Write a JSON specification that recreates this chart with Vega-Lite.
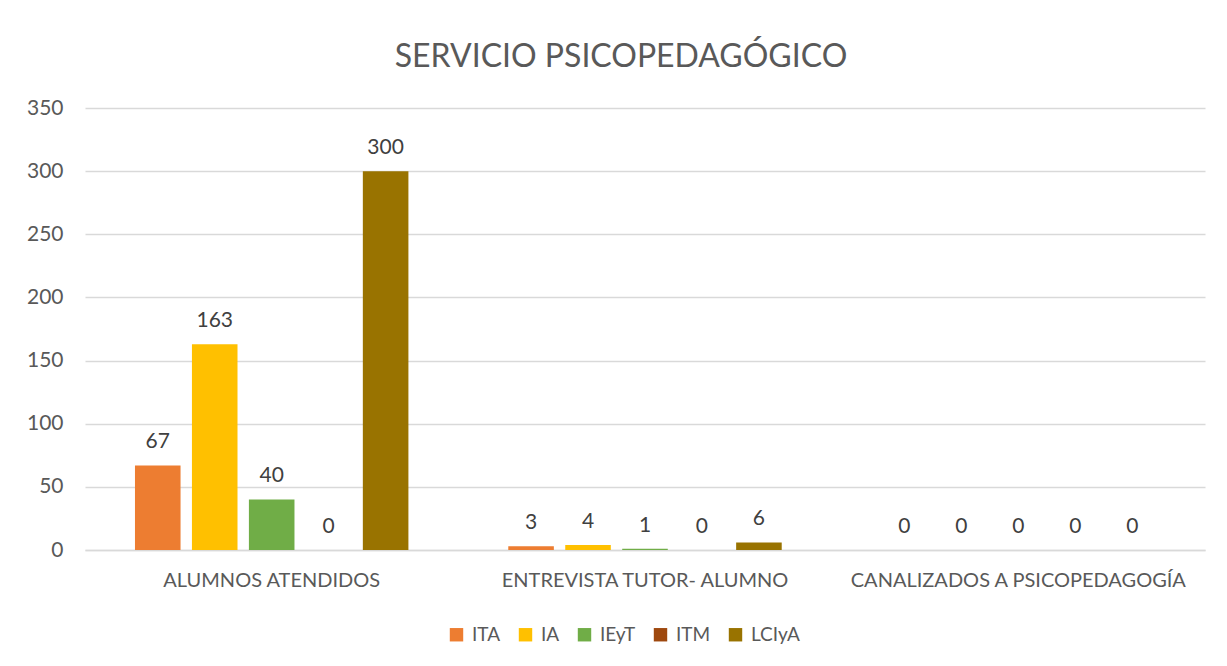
{
  "$schema": "https://vega.github.io/schema/vega-lite/v6.json",
  "autosize": {"type": "none"},
  "width": 1120,
  "height": 442,
  "padding": {"left": 85, "top": 108, "right": 22, "bottom": 116},
  "background": "white",
  "title": {
    "text": "SERVICIO PSICOPEDAGÓGICO",
    "font": "Lato",
    "fontSize": 32,
    "fontWeight": "normal",
    "color": "#595959",
    "anchor": "middle",
    "dx": -24,
    "offset": 23
  },
  "data": {
    "values": [
      {"categoria": "ALUMNOS ATENDIDOS", "programa": "ITA", "valor": 67},
      {"categoria": "ALUMNOS ATENDIDOS", "programa": "IA", "valor": 163},
      {"categoria": "ALUMNOS ATENDIDOS", "programa": "IEyT", "valor": 40},
      {"categoria": "ALUMNOS ATENDIDOS", "programa": "ITM", "valor": 0},
      {"categoria": "ALUMNOS ATENDIDOS", "programa": "LCIyA", "valor": 300},
      {"categoria": "ENTREVISTA TUTOR- ALUMNO", "programa": "ITA", "valor": 3},
      {"categoria": "ENTREVISTA TUTOR- ALUMNO", "programa": "IA", "valor": 4},
      {"categoria": "ENTREVISTA TUTOR- ALUMNO", "programa": "IEyT", "valor": 1},
      {"categoria": "ENTREVISTA TUTOR- ALUMNO", "programa": "ITM", "valor": 0},
      {"categoria": "ENTREVISTA TUTOR- ALUMNO", "programa": "LCIyA", "valor": 6},
      {"categoria": "CANALIZADOS A PSICOPEDAGOGÍA", "programa": "ITA", "valor": 0},
      {"categoria": "CANALIZADOS A PSICOPEDAGOGÍA", "programa": "IA", "valor": 0},
      {"categoria": "CANALIZADOS A PSICOPEDAGOGÍA", "programa": "IEyT", "valor": 0},
      {"categoria": "CANALIZADOS A PSICOPEDAGOGÍA", "programa": "ITM", "valor": 0},
      {"categoria": "CANALIZADOS A PSICOPEDAGOGÍA", "programa": "LCIyA", "valor": 0}
    ]
  },
  "encoding": {
    "x": {
      "field": "categoria",
      "type": "nominal",
      "sort": ["ALUMNOS ATENDIDOS", "ENTREVISTA TUTOR- ALUMNO", "CANALIZADOS A PSICOPEDAGOGÍA"],
      "scale": {"paddingInner": 0.237, "paddingOuter": 0.1186},
      "axis": {
        "title": null,
        "labelAngle": 0,
        "labelFont": "Lato",
        "labelFontSize": 20,
        "labelColor": "#595959",
        "labelPadding": 20,
        "labelLimit": 0,
        "ticks": false,
        "domain": true,
        "domainColor": "#d9d9d9",
        "domainWidth": 1.5,
        "grid": false
      }
    },
    "xOffset": {
      "field": "programa",
      "type": "nominal",
      "sort": ["ITA", "IA", "IEyT", "ITM", "LCIyA"],
      "scale": {"paddingInner": 0.2, "paddingOuter": 0.1}
    },
    "y": {
      "field": "valor",
      "type": "quantitative",
      "scale": {"domain": [0, 350]},
      "axis": {
        "title": null,
        "values": [0, 50, 100, 150, 200, 250, 300, 350],
        "labelFont": "Lato",
        "labelFontSize": 21,
        "labelColor": "#595959",
        "labelPadding": 22,
        "ticks": false,
        "domain": false,
        "grid": true,
        "gridColor": "#d9d9d9",
        "gridWidth": 1.3
      }
    }
  },
  "layer": [
    {
      "mark": {"type": "bar"},
      "encoding": {
        "color": {
          "field": "programa",
          "type": "nominal",
          "sort": ["ITA", "IA", "IEyT", "ITM", "LCIyA"],
          "scale": {
            "domain": ["ITA", "IA", "IEyT", "ITM", "LCIyA"],
            "range": ["#ED7D31", "#FFC000", "#70AD47", "#9E480E", "#997300"]
          },
          "legend": {
            "title": null,
            "orient": "none",
            "direction": "horizontal",
            "legendX": 362,
            "legendY": 517,
            "symbolType": "square",
            "symbolSize": 180,
            "symbolStrokeWidth": 0,
            "labelFont": "Lato",
            "labelFontSize": 19,
            "labelColor": "#595959",
            "labelOffset": 6,
            "columnPadding": 15
          }
        }
      }
    },
    {
      "mark": {"type": "text", "baseline": "alphabetic", "dy": -17, "font": "Lato", "fontSize": 21, "color": "#404040"},
      "encoding": {
        "text": {"field": "valor", "type": "quantitative"}
      }
    }
  ],
  "config": {
    "view": {"stroke": null}
  }
}
